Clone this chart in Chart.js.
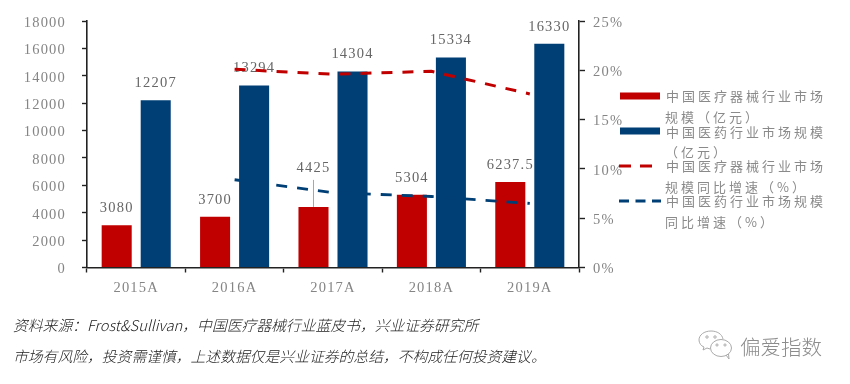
<!DOCTYPE html>
<html>
<head>
<meta charset="utf-8">
<script src="https://cdn.jsdelivr.net/npm/chart.js@4/dist/chart.umd.js"></script>
<style>
    html, body { margin: 0; padding: 0; background: #fff; }
    #box { position: relative; width: 850px; height: 384px; overflow: hidden; }
    #myChart { position: absolute; left: 0; top: 0; }
    .note { position: absolute; left: 13px; font: italic 300 14.8px "Noto Sans CJK SC"; color: #222; white-space: nowrap; line-height: 20px; }
    #mark { position: absolute; left: 740px; top: 331px; font: 300 20.5px "Noto Sans CJK SC"; color: #8c8c8c; line-height: 30px; white-space: nowrap; }
    #icon { position: absolute; left: 697px; top: 329px; }
</style>
</head>
<body>
<div id="box">
    <canvas id="myChart" width="850" height="384"></canvas>
    <div class="note" style="top:315px">资料来源：Frost&amp;Sullivan，中国医疗器械行业蓝皮书，兴业证券研究所</div>
    <div class="note" style="top:346px">市场有风险，投资需谨慎，上述数据仅是兴业证券的总结，不构成任何投资建议。</div>
    <svg id="icon" width="38" height="32" fill="none" stroke="#aaa" stroke-width="1">
        <path d="M14 2c-7 0-12 4-12 9 0 3 2 6 5 7l-1 3 4-2 3 1" />
        <path d="M14 2c6 0 11 3 12 8" />
        <ellipse cx="24" cy="19" rx="10.5" ry="8.5" />
        <path d="M29 26l3 4-.5-5" />
        <circle cx="10" cy="8" r="1.2" /><circle cx="18" cy="8" r="1.2" />
        <circle cx="20" cy="16" r="1.1" /><circle cx="28" cy="16" r="1.1" />
    </svg>
    <div id="mark">偏爱指数</div>
</div>
<script>
let years = ['2015A', '2016A', '2017A', '2018A', '2019A'];
let deviceSize = [3080, 3700, 4425, 5304, 6237.5];
let drugSize = [12207, 13294, 14304, 15334, 16330];
let deviceGrowth = [null, 20.1, 19.6, 19.9, 17.6];
let drugGrowth = [null, 8.9, 7.6, 7.2, 6.5];
let sizeTicks = [0, 2000, 4000, 6000, 8000, 10000, 12000, 14000, 16000, 18000];
let growthTicks = [0, 5, 10, 15, 20, 25];
let deviceName = ['中国医疗器械行业市场', '规模（亿元）'];
let drugName = ['中国医药行业市场规模', '（亿元）'];
let deviceGrowthName = ['中国医疗器械行业市场', '规模同比增速（%）'];
let drugGrowthName = ['中国医药行业市场规模', '同比增速（%）'];

let RED = '#c00000';
let BLUE = '#003f75';
let GREY = '#858585';
let SERIF = '14.5px "Liberation Serif"';


let spacingPlugin = {
    id: 'spacing',
    beforeDraw(chart) {
        chart.ctx.letterSpacing = '1.2px';
    }
};


// value labels go under the datasets, the blue bar cuts the "6237.5"
let valueLabels = {
    id: 'valueLabels',
    beforeDatasetsDraw(chart) {
        let ctx = chart.ctx;
        ctx.save();
        ctx.font = SERIF;
        ctx.fillStyle = '#666';
        ctx.textAlign = 'center';
        ctx.textBaseline = 'middle';
        [0, 1].forEach(function (set) {
            let bars = chart.getDatasetMeta(set).data;
            for (let index = 0; index < bars.length; index++) {
                let bar = bars[index];
                let lift = 17;
                if (set == 0 && index == 2) {
                    lift = 39;
                    ctx.strokeStyle = '#a6a6a6';
                    ctx.lineWidth = 1;
                    ctx.beginPath();
                    ctx.moveTo(bar.x, bar.y);
                    ctx.lineTo(bar.x, bar.y - 27);
                    ctx.stroke();
                }
                ctx.fillText(chart.data.datasets[set].data[index], bar.x, bar.y - lift);
            }
        });
        ctx.restore();
    }
};


let sideLegend = {
    id: 'sideLegend',
    afterDraw(chart) {
        let ctx = chart.ctx;
        ctx.save();
        ctx.font = '13px "Noto Sans CJK SC"';
        ctx.letterSpacing = '3px';
        ctx.fillStyle = '#8a8a8a';
        ctx.textBaseline = 'middle';
        ctx.fillText(deviceName[0], 666, 96);
        ctx.fillText(deviceName[1], 665, 117);
        ctx.fillText(drugName[0], 666, 132);
        ctx.fillText(drugName[1], 665, 152);
        ctx.fillText(deviceGrowthName[0], 666, 166);
        ctx.fillText(deviceGrowthName[1], 665, 187);
        ctx.fillText(drugGrowthName[0], 666, 201);
        ctx.fillText(drugGrowthName[1], 665, 222);
        ctx.fillStyle = RED;
        ctx.fillRect(620, 92.5, 40, 7);
        ctx.fillStyle = BLUE;
        ctx.fillRect(620, 127.5, 40, 7);
        ctx.lineWidth = 3;
        ctx.strokeStyle = RED;
        ctx.setLineDash([12, 9]);
        ctx.beginPath();
        ctx.moveTo(619, 166);
        ctx.lineTo(653, 166);
        ctx.stroke();
        ctx.strokeStyle = BLUE;
        ctx.setLineDash([10, 6.5]);
        ctx.beginPath();
        ctx.moveTo(619, 201);
        ctx.lineTo(661, 201);
        ctx.stroke();
        ctx.restore();
    }
};


function showChart() {
    let canvas = document.getElementById('myChart');
    let ctx = canvas.getContext('2d');
    let myChart = new Chart(ctx, {
        data: {
            labels: years,
            datasets: [
                { type: 'bar', label: deviceName.join(''), data: deviceSize, backgroundColor: RED, yAxisID: 'y', order: 3, barPercentage: 0.77, categoryPercentage: 0.793 },
                { type: 'bar', label: drugName.join(''), data: drugSize, backgroundColor: BLUE, yAxisID: 'y', order: 3, barPercentage: 0.77, categoryPercentage: 0.793 },
                { type: 'line', label: drugGrowthName.join(''), data: drugGrowth, borderColor: BLUE, borderWidth: 2.8, borderDash: [11, 10], pointRadius: 0, yAxisID: 'y2', order: 2, tension: 0 },
                { type: 'line', label: deviceGrowthName.join(''), data: deviceGrowth, borderColor: RED, borderWidth: 3, borderDash: [11, 10], pointRadius: 0, yAxisID: 'y2', order: 1, tension: 0 }
            ]
        },
        options: {
            responsive: false,
            animation: false,
            layout: { padding: { top: 21 } },
            plugins: { legend: { display: false }, tooltip: { enabled: false } },
            scales: {
                x: {
                    offset: true,
                    afterFit(scale) { scale.height = 116.5; },
                    border: { color: '#222', width: 1.6 },
                    grid: { drawOnChartArea: false, offset: true, tickColor: '#222', tickWidth: 1.4, tickLength: 5 },
                    ticks: { color: GREY, font: { family: 'Liberation Serif', size: 14.5 }, padding: 7, maxRotation: 0 }
                },
                y: {
                    position: 'left',
                    min: 0,
                    max: 18000,
                    afterFit(scale) { scale.width = 87; scale.paddingTop = 0; scale.paddingBottom = 0; },
                    afterBuildTicks(scale) { scale.ticks = sizeTicks.map(function (v) { return { value: v }; }); },
                    border: { color: '#222', width: 1.6 },
                    grid: { drawOnChartArea: false, tickColor: '#222', tickWidth: 1.4, tickLength: 5 },
                    ticks: {
                        color: GREY,
                        font: { family: 'Liberation Serif', size: 14.5 },
                        padding: 16,
                        labelOffset: 2,
                        callback: function (value) { return String(value); }
                    }
                },
                y2: {
                    position: 'right',
                    min: 0,
                    max: 25,
                    afterFit(scale) { scale.width = 271; scale.paddingTop = 0; scale.paddingBottom = 0; },
                    afterBuildTicks(scale) { scale.ticks = growthTicks.map(function (v) { return { value: v }; }); },
                    border: { color: '#222', width: 1.6 },
                    grid: { drawOnChartArea: false, tickColor: '#222', tickWidth: 1.4, tickLength: 6 },
                    ticks: {
                        color: GREY,
                        font: { family: 'Liberation Serif', size: 14.5 },
                        padding: 8,
                        labelOffset: 2,
                        callback: function (value) { return value + '%'; }
                    }
                }
            }
        },
        plugins: [spacingPlugin, valueLabels, sideLegend]
    });
}


showChart();
</script>
</body>
</html>
